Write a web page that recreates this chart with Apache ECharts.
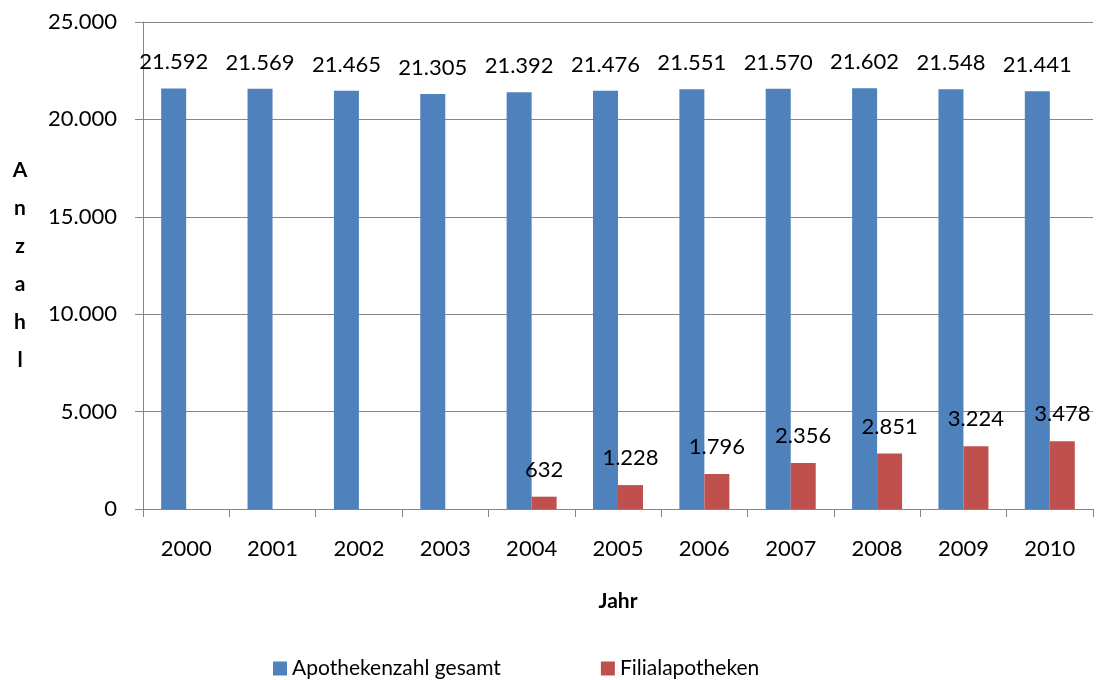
<!DOCTYPE html>
<html>
<head>
<meta charset="utf-8">
<script src="https://cdn.jsdelivr.net/npm/echarts@6/dist/echarts.min.js"></script>
<style>
  html, body { margin: 0; padding: 0; background: #fff; }
  #chart { width: 1097px; height: 680px; }
</style>
</head>
<body>
<div id="chart"></div>
<script>
  // Apothekenzahl in Deutschland 2000 - 2010
  var years = ['2000', '2001', '2002', '2003', '2004', '2005', '2006', '2007', '2008', '2009', '2010'];
  var gesamt = [21592, 21569, 21465, 21305, 21392, 21476, 21551, 21570, 21602, 21548, 21441];
  var filialen = [null, null, null, null, 632, 1228, 1796, 2356, 2851, 3224, 3478];

  var font = 'Lato';
  var grey = '#868686';
  var numSize = 22;

  // 21592 -> "21.592"
  function deNum(v) {
    return String(Math.round(v)).replace(/\B(?=(\d{3})+(?!\d))/g, '.');
  }

  var chart = echarts.init(document.getElementById('chart'));
  var option = {
    backgroundColor: '#fff',
    textStyle: { fontFamily: font },
    grid: {
      left: 143,
      right: 4,
      top: 22,
      bottom: 171
    },
    legend: {
      left: 268,
      top: 653,
      itemWidth: 14,
      itemHeight: 14,
      itemGap: 100,
      icon: 'rect',
      textStyle: { fontSize: 21, color: '#000', fontFamily: font },
      data: ['Apothekenzahl gesamt', 'Filialapotheken']
    },
    xAxis: {
      type: 'category',
      data: years,
      name: 'Jahr',
      nameLocation: 'middle',
      nameGap: 82,
      nameTextStyle: { fontSize: 21, fontWeight: 'bold', color: '#000', fontFamily: font },
      axisLine: { lineStyle: { color: grey } },
      axisTick: { show: true, length: 8, lineStyle: { color: grey } },
      axisLabel: { fontSize: numSize, color: '#000', margin: 29, fontFamily: font }
    },
    yAxis: {
      type: 'value',
      min: 0,
      max: 25000,
      interval: 5000,
      name: 'A\nn\nz\na\nh\nl',
      nameLocation: 'middle',
      nameRotate: 0,
      nameGap: 123,
      nameTextStyle: {
        fontSize: 21, fontWeight: 'bold', color: '#000', fontFamily: font,
        lineHeight: 38, align: 'center', verticalAlign: 'middle'
      },
      axisLine: { show: true, lineStyle: { color: grey } },
      axisTick: { show: true, length: 8, lineStyle: { color: grey } },
      splitLine: { lineStyle: { color: grey } },
      axisLabel: {
        fontSize: numSize, color: '#000', margin: 26, fontFamily: font,
        formatter: deNum
      }
    },
    series: [
      {
        name: 'Apothekenzahl gesamt',
        type: 'bar',
        data: gesamt,
        barWidth: 25,
        barGap: '0%',
        itemStyle: { color: '#4F81BD' },
        label: {
          show: true,
          position: 'top',
          distance: 15,
          fontSize: numSize,
          color: '#000',
          fontFamily: font,
          formatter: function(p) { return deNum(p.value); }
        }
      },
      {
        name: 'Filialapotheken',
        type: 'bar',
        data: filialen,
        barWidth: 25,
        barGap: '0%',
        itemStyle: { color: '#C0504D' },
        label: {
          show: true,
          position: 'top',
          distance: 16,
          fontSize: numSize,
          color: '#000',
          fontFamily: font,
          formatter: function(p) { return p.value == null ? '' : deNum(p.value); }
        }
      }
    ]
  };
  chart.setOption(option);
</script>
</body>
</html>
